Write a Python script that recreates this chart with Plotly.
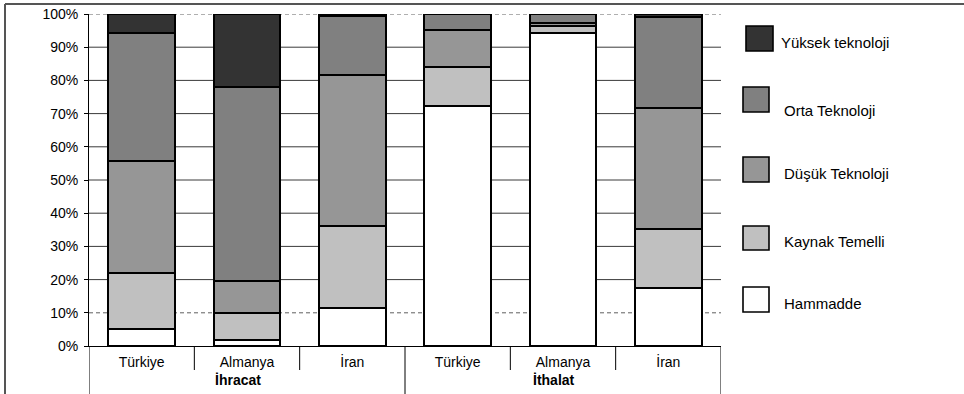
import plotly.graph_objects as go

# ---------------- data ----------------
categories = ["Türkiye", "Almanya", "İran", "Türkiye", "Almanya", "İran"]
group_names = ["İhracat", "İthalat"]
group_sizes = [3, 3]

series_names = ["Hammadde", "Kaynak Temelli", "Düşük Teknoloji", "Orta Teknoloji", "Yüksek teknoloji"]
hammadde = [5.0, 1.8, 11.3, 72.3, 94.2, 17.6]
kaynak = [17.1, 8.2, 24.9, 11.8, 2.3, 17.5]
dusuk = [33.6, 9.7, 45.5, 11.2, 0.9, 36.7]
orta = [38.7, 58.3, 17.7, 4.7, 2.6, 27.2]
yuksek = [5.6, 22.0, 0.6, 0.0, 0.0, 1.0]
series_values = [hammadde, kaynak, dusuk, orta, yuksek]
series_colors = ["#FFFFFF", "#C0C0C0", "#969696", "#808080", "#333333"]

y_ticks = [0, 10, 20, 30, 40, 50, 60, 70, 80, 90, 100]
dashed_grid = [10, 100]

# ---------------- layout constants (pixels) ----------------
W, H = 964, 394
L, R, T, B = 89, 721, 14, 346
FONT = "Liberation Sans, Arial, sans-serif"
FS = 14


def px_x(px):
    return (px - L) / (R - L)


def px_y(py):
    return (B - py) / (B - T)


x_pos = list(range(len(categories)))

fig = go.Figure()
for name, vals, col in zip(series_names, series_values, series_colors):
    fig.add_trace(go.Bar(
        x=x_pos, y=vals, name=name,
        marker=dict(color=col, line=dict(color="#000000", width=2)),
        width=0.63, showlegend=False,
    ))

shapes = []
# gridlines
for v in y_ticks:
    if v == 0:
        continue
    if v in dashed_grid:
        shapes.append(dict(type="line", xref="paper", yref="y", x0=0, x1=1, y0=v, y1=v,
                           line=dict(color="#606060", width=1, dash="4px,3px"), layer="below"))
    else:
        shapes.append(dict(type="line", xref="paper", yref="y", x0=0, x1=1, y0=v, y1=v,
                           line=dict(color="#3a3a3a", width=1), layer="below"))

# category boundary ticks and group dividers
n = len(categories)
group_edges = [-0.5]
acc = -0.5
for s in group_sizes:
    acc += s
    group_edges.append(acc)
for i in range(n + 1):
    xb = i - 0.5
    if any(abs(xb - g) < 1e-9 for g in group_edges):
        y_end = px_y(400)
    else:
        y_end = px_y(370)
    shapes.append(dict(type="line", xref="x", yref="paper", x0=xb, x1=xb, y0=0, y1=y_end,
                       line=dict(color="#000000", width=1)))

# outer frame of chart
shapes.append(dict(type="line", xref="paper", yref="paper", x0=px_x(5), x1=px_x(970),
                   y0=px_y(4), y1=px_y(4), line=dict(color="#555555", width=2)))
shapes.append(dict(type="line", xref="paper", yref="paper", x0=px_x(5), x1=px_x(5),
                   y0=px_y(4), y1=px_y(400), line=dict(color="#555555", width=2)))

annotations = []
# group labels
start = 0
for gname, s in zip(group_names, group_sizes):
    center = start + (s - 1) / 2
    annotations.append(dict(x=center, y=px_y(380), xref="x", yref="paper", xshift=-9,
                            text="<b>" + gname + "</b>", showarrow=False,
                            font=dict(family=FONT, size=FS, color="#000000"),
                            xanchor="center", yanchor="middle"))
    start += s

# manual legend (top to bottom)
legend_boxes = [(746, 26, 773, 51, 779, 43), (743, 87, 769, 112, 782, 110),
                (743, 157, 769, 182, 782, 173), (743, 226, 769, 250, 782, 241),
                (743, 287, 769, 312, 782, 303)]
for (x0, y0, x1, y1, tx, ty), name, col in zip(legend_boxes, series_names[::-1], series_colors[::-1]):
    shapes.append(dict(type="rect", xref="paper", yref="paper",
                       x0=px_x(x0), x1=px_x(x1), y0=px_y(y1), y1=px_y(y0),
                       fillcolor=col, line=dict(color="#000000", width=1.6)))
    annotations.append(dict(x=px_x(tx), y=px_y(ty), xref="paper", yref="paper", text=name,
                            showarrow=False, xanchor="left", yanchor="middle",
                            font=dict(family=FONT, size=15, color="#000000")))

fig.update_layout(
    width=W, height=H,
    autosize=False,
    margin=dict(l=L, r=W - R, t=T, b=H - B, pad=0, autoexpand=False),
    barmode="stack",
    bargap=0.37,
    plot_bgcolor="#FFFFFF", paper_bgcolor="#FFFFFF",
    font=dict(family=FONT, size=FS, color="#000000"),
    shapes=shapes, annotations=annotations,
    showlegend=False,
    xaxis=dict(range=[-0.5, n - 0.5], tickmode="array", tickvals=x_pos, ticktext=categories,
               showgrid=False, zeroline=False, showline=True, linecolor="#000000", linewidth=1,
               ticks="", ticklabelstandoff=3, tickfont=dict(family=FONT, size=FS, color="#000000"),
               fixedrange=True, automargin=False),
    yaxis=dict(range=[0, 100], tickmode="array", tickvals=y_ticks,
               ticktext=[f"{v}%" for v in y_ticks],
               showgrid=False, zeroline=False, showline=True, linecolor="#000000", linewidth=1,
               ticks="outside", ticklen=4, tickcolor="#000000", ticklabelstandoff=3,
               tickfont=dict(family=FONT, size=FS, color="#000000"), fixedrange=True,
               automargin=False),
)

fig.write_html("out.html", config={"displayModeBar": False},
               post_script="document.body.style.margin='0';document.body.style.overflow='hidden';")
